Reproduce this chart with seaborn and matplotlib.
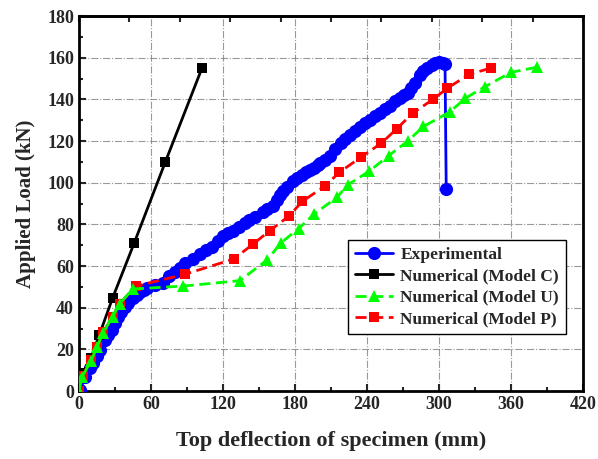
import numpy as np
import pandas as pd
import matplotlib
matplotlib.use("Agg")
import matplotlib.pyplot as plt
import seaborn as sns

# curva experimental
exp_x = [0, 1, 5, 9, 11.7, 15, 17.5, 21.7, 24.5, 27.5, 30, 32.5, 35, 38, 41, 45, 48, 51, 54,
         56.7, 63, 70, 75, 80, 84, 88, 95, 101, 106, 111, 116, 120, 124, 128, 133, 138, 142,
         147, 153, 157, 162, 165, 167.5, 170, 173, 178, 182, 186, 189, 192.5, 196, 199, 201,
         205, 209, 213, 218, 222, 226, 230, 234, 238, 242.5, 247, 251, 255, 259, 263, 267.5,
         271, 274, 277, 280, 284, 287, 290, 294, 297, 300, 303, 305, 306]
exp_y = [0, 0.5, 6.7, 11, 13.4, 17, 19.7, 24.5, 27, 29.3, 32.5, 35.5, 38, 40.3, 42.5, 44.6, 46,
         47.5, 48.5, 49.4, 51, 52, 55, 57, 59, 61.4, 63.5, 65.8, 67.5, 69, 72, 74.4, 75.8, 77,
         78.8, 80.6, 82, 83.5, 86, 87.5, 89, 91.5, 94, 96, 98, 101, 102.5, 103.7, 105, 106,
         107.3, 108.5, 109.4, 111, 113, 116, 119, 121, 123, 125, 126.7, 128.5, 130, 132, 133.5,
         135.5, 137, 139, 140.6, 142, 143, 145.5, 148, 151.7, 153.5, 155, 156.5, 157.5, 158,
         157.5, 157, 97]

# modelo C
c_x = [0, 3, 10, 17, 28, 46, 72, 102.5]
c_y = [0, 8.6, 16, 27, 44.6, 71, 110, 155]

# modelo U
u_x = [0, 2.5, 10, 15, 20, 28, 34, 45, 87, 134, 157, 168, 183, 196, 215, 224, 242, 258, 274,
       287, 309, 322, 338, 360, 382]
u_y = [0, 6.7, 14.4, 21, 28, 35.5, 42, 49, 50.4, 53, 63, 71, 78, 85, 93, 99, 105.6, 113, 120,
       127, 134, 140.6, 146, 153, 155.5]

# modelo P
p_x = [0, 3, 10, 15, 20, 28, 34, 47.5, 88, 129, 145, 159, 175, 186, 205, 217, 235, 252, 265,
       278, 295, 307, 325, 343]
p_y = [0, 7.2, 15, 21, 28.3, 35.5, 42, 50.4, 56, 63.4, 70.5, 77, 84, 91, 98.4, 105, 112.3, 119,
       126, 133.4, 140, 145.4, 152, 155]

sns.set_style("ticks")
plt.rcParams['font.family'] = ['Liberation Serif', 'DejaVu Serif']
plt.rcParams['font.weight'] = 'bold'
plt.rcParams['axes.labelweight'] = 'bold'

fig = plt.figure(figsize=(5.98, 4.59), dpi=100)
ax = fig.add_axes([0.132, 0.148, 0.843, 0.817])

ax.grid(True, which='major', color='gray', linestyle='-.', linewidth=0.8, alpha=0.8)
ax.set_axisbelow(True)

sns.lineplot(x=exp_x, y=exp_y, ax=ax, color='#0000ff', marker='o', markersize=9.5,
             markeredgewidth=0, linewidth=2, sort=False, estimator=None,
             label='Experimental', zorder=3)
sns.lineplot(x=c_x, y=c_y, ax=ax, color='black', marker='s', markersize=7.5,
             markeredgewidth=0, linewidth=2, sort=False, estimator=None,
             label='Numerical (Model C)', zorder=4)
sns.lineplot(x=u_x, y=u_y, ax=ax, color='#00ff00', marker='^', markersize=9,
             markeredgewidth=0, linewidth=2, sort=False, estimator=None,
             label='Numerical (Model U)', zorder=6)
sns.lineplot(x=p_x, y=p_y, ax=ax, color='#ff0000', marker='s', markersize=7.5,
             markeredgewidth=0, linewidth=2, sort=False, estimator=None,
             label='Numerical (Model P)', zorder=5)
ax.lines[2].set_dashes([4, 2])
ax.lines[3].set_dashes([4, 2])

ax.set_xlim(0, 420)
ax.set_ylim(0, 180)
ax.set_xticks(np.arange(0, 421, 60))
ax.set_xticks(np.arange(30, 420, 60), minor=True)
ax.set_yticks(np.arange(0, 181, 20))
ax.set_yticks(np.arange(10, 180, 20), minor=True)
ax.tick_params(which='major', direction='in', length=5, width=1.5, labelsize=13)
ax.tick_params(which='minor', direction='in', length=3, width=1.5)
for lab in ax.get_xticklabels() + ax.get_yticklabels():
    lab.set_fontweight('bold')

# eje superior con otras marcas
top = ax.secondary_xaxis('top')
top.set_xticks(np.arange(0, 421, 42))
top.set_xticklabels([])
top.tick_params(direction='in', length=4, width=1.5)

for s in ax.spines.values():
    s.set_linewidth(2)
    s.set_color('black')
top.spines['top'].set_linewidth(2)

ax.set_xlabel('Top deflection of specimen (mm)', fontsize=16, fontweight='bold', labelpad=13)
ax.set_ylabel('Applied Load (kN)', fontsize=15, fontweight='bold', labelpad=8)

leg = ax.legend(loc='lower right', bbox_to_anchor=(0.966, 0.152), borderaxespad=0,
                fancybox=False, edgecolor='black', framealpha=1,
                prop={'weight': 'bold', 'size': 12.5},
                handlelength=2.2, borderpad=0.4, labelspacing=0.3, handletextpad=0.4)
leg.get_frame().set_linewidth(1)

fig.savefig('out.png', dpi=100)
